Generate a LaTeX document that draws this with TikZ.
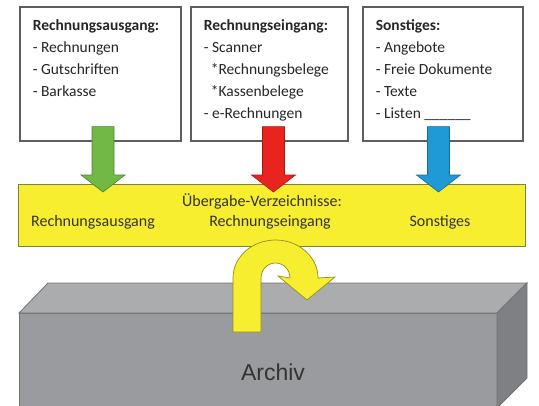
\documentclass[tikz,border=0pt]{standalone}
\usepackage{fontspec}
\setmainfont{Carlito}
\newfontfamily\archivfont{Liberation Sans}
\usetikzlibrary{calc, shadows}

\definecolor{boxline}{HTML}{5E5E5E}
\definecolor{gelb}{HTML}{F6EE2E}
\definecolor{gruen}{HTML}{72B846}
\definecolor{rot}{HTML}{E9241E}
\definecolor{blau}{HTML}{1F9AD6}
\definecolor{grauvorn}{HTML}{9A9B9E}
\definecolor{grauoben}{HTML}{ABACAE}
\definecolor{grauseite}{HTML}{7F8083}

% text of one input box, top aligned
\newcommand{\boxlines}[2]{\parbox[c][108pt][t]{#1}{#2}}
% block arrow from box #1 down to box #2 at x=#3
\newcommand{\blockarrow}[4]{%
  \filldraw[#4] ($(#1.south -| o)+(#3-11,-15)$) -- ($(#2.north -| o)+(#3-11,-9)$)
    -- ($(#2.north -| o)+(#3-22,-9)$) -- ($(#2.north -| o)+(#3,8)$)
    -- ($(#2.north -| o)+(#3+22,-9)$) -- ($(#2.north -| o)+(#3+11,-9)$)
    -- ($(#1.south -| o)+(#3+11,-15)$) -- cycle;}

\begin{document}
\begin{tikzpicture}[
        x=1pt, y=-1pt,
        textbox/.style={draw=boxline, line width=1.6pt, fill=white, anchor=north west,
            inner xsep=13pt, inner ysep=13pt, text=black!85,
            font=\fontsize{15.5}{22}\selectfont,
            drop shadow={shadow xshift=1.2pt, shadow yshift=-1.2pt, opacity=.5}},
        sammelbox/.style={draw=boxline!80!yellow, line width=1.4pt, fill=gelb, anchor=north west,
            inner sep=0pt, minimum width=507pt, minimum height=62pt},
        listtext/.style={text=black!80, font=\fontsize{16}{18}\selectfont, inner sep=1pt},
        pfeilgruen/.style={fill=gruen, draw=gruen!70!black, line width=.6pt},
        pfeilrot/.style={fill=rot, draw=rot!70!black, line width=.6pt},
        pfeilblau/.style={fill=blau, draw=blau!70!black, line width=.6pt},
        kante/.style={draw=black!55, line width=.8pt}
    ]
        \useasboundingbox (0,0) rectangle (539,405);
        \coordinate (o) at (0,0);

        % Input boxes
        \node[textbox] (rausgang) at (19,6) {\boxlines{135pt}{\textbf{Rechnungsausgang:}\\- Rechnungen\\- Gutschriften\\- Barkasse}};
        \node[textbox] (reingang) at (190,6) {\boxlines{131pt}{\textbf{Rechnungseingang:}\\- Scanner\\\hspace*{7pt}*Rechnungsbelege\\\hspace*{7pt}*Kassenbelege\\- e-Rechnungen}};
        \node[textbox] (sonstiges) at (362,6) {\boxlines{134pt}{\textbf{Sonstiges:}\\- Angebote\\- Freie Dokumente\\- Texte\\- Listen \_\_\_\_\_\_}};

        % Transfer lists
        \node[sammelbox] (uebergabe) at (18,184) {};
        \node[listtext] (titel) at (262,201) {Übergabe-Verzeichnisse:};
        \node[listtext] (lblaus) at (93,222) {Rechnungsausgang};
        \node[listtext] (lblein) at (270,222) {Rechnungseingang};
        \node[listtext] (lblsonst) at (440,222) {Sonstiges};

        % Arrows into the lists
        \blockarrow{rausgang}{uebergabe}{103}{pfeilgruen}
        \blockarrow{reingang}{uebergabe}{273.5}{pfeilrot}
        \blockarrow{sonstiges}{uebergabe}{438.5}{pfeilblau}

        % Archive block
        \filldraw[kante, fill=grauvorn] (19,313) rectangle (497,412);
        \filldraw[kante, fill=grauoben] (19,313) -- (48,283) -- (527,283) -- (497,313) -- cycle;
        \filldraw[kante, fill=grauseite] (497,313) -- (527,283) -- (527,378) -- (497,408) -- cycle;
        \node[font=\archivfont\fontsize{23}{27}\selectfont, text=black!80] (archiv) at (273,372) {Archiv};

        % Turning arrow
        \filldraw[fill=gelb, draw=gelb!60!black, line width=.7pt] (233,332) -- (233,278)
            arc[start angle=180, end angle=360, x radius=42.5, y radius=38]
            -- (335,277) -- (307,300) -- (278,276) -- (290,278)
            arc[start angle=0, end angle=-180, x radius=14.5, y radius=15] -- (261,332) -- cycle;

    \end{tikzpicture}
\end{document}
